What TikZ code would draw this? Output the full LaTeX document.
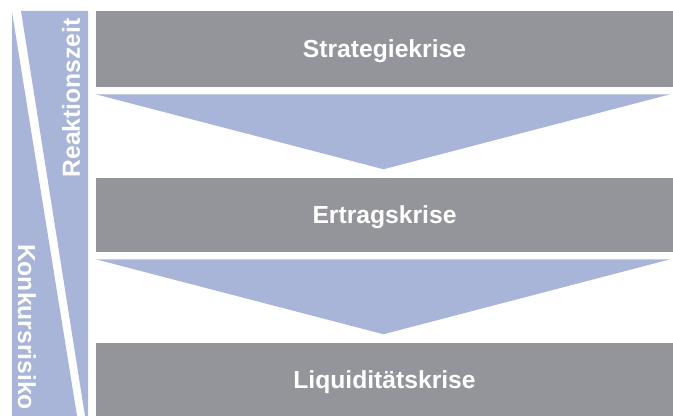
\documentclass[tikz,border=0pt]{standalone}
\usepackage{fontspec}
\setsansfont{Liberation Sans}
\usetikzlibrary{calc}

\definecolor{krisegrau}{RGB}{148,149,154}
\definecolor{kriseblau}{RGB}{168,180,216}

\begin{document}
\begin{tikzpicture}[x=0.75pt,y=-0.75pt,
    phase/.style={fill=krisegrau,text=white,inner sep=0pt,minimum width=432.75pt,
      text depth=0pt,font=\sffamily\bfseries\fontsize{18.5}{20}\selectfont},
    pfeil/.style={fill=kriseblau},
    seite/.style={text=white,inner sep=0pt,font=\sffamily\bfseries\fontsize{18.5}{20}\selectfont}]
  \useasboundingbox (0,0) rectangle (673,416);
  \node[phase,minimum height=57pt] (s) at (384.5,49) {Strategiekrise};
  \node[phase,minimum height=55.5pt] (e) at (384.5,215) {Ertragskrise};
  \node[phase,minimum height=54.75pt] (l) at (384.5,379.5) {Liquiditätskrise};
  \foreach \a/\b in {s/e,e/l}{
    \fill[pfeil] ($(\a.south west)+(0,7)$) -- ($(\a.south east)+(-3,7)$) -- ($(\b.north)+(-1,-8.5)$) -- cycle;
  }
  \fill[kriseblau] (21,11) -- (88,11) -- (88,416) -- (85,416) -- cycle;
  \fill[kriseblau] (12,12) -- (77,416) -- (12,416) -- cycle;
  \node[seite,rotate=90] (rz) at (71,98) {Reaktionszeit};
  \node[seite,rotate=-90] (kr) at (27,327) {Konkursrisiko};
\end{tikzpicture}
\end{document}
